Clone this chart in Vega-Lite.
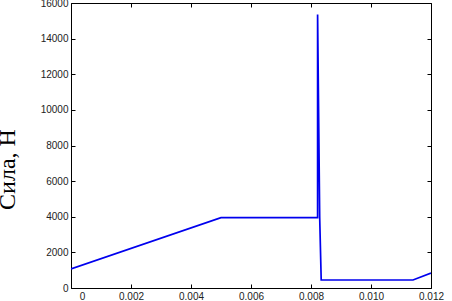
{
  "$schema": "https://vega.github.io/schema/vega-lite/v6.json",
  "autosize": "none",
  "width": 360,
  "height": 285,
  "padding": {"left": 71, "top": 3, "right": 21, "bottom": 13},
  "background": "white",
  "config": {
    "view": {"stroke": "black", "strokeWidth": 1},
    "axis": {
      "grid": false,
      "domain": false,
      "tickColor": "black",
      "tickSize": -4,
      "labelFlush": false,
      "labelFont": "Liberation Sans",
      "labelFontSize": 10,
      "labelColor": "#222"
    }
  },
  "data": {
    "values": [
      {"t": 0.0, "f": 1070},
      {"t": 0.005, "f": 3950},
      {"t": 0.00822, "f": 3950},
      {"t": 0.00822, "f": 15350},
      {"t": 0.00829, "f": 3950},
      {"t": 0.00834, "f": 450},
      {"t": 0.0114, "f": 450},
      {"t": 0.012, "f": 840}
    ]
  },
  "layer": [
    {
      "mark": {"type": "line", "color": "#0000ee", "strokeWidth": 1.7, "clip": true},
      "encoding": {
        "x": {
          "field": "t", "type": "quantitative",
          "scale": {"domain": [0, 0.012], "nice": false, "zero": false},
          "axis": {
            "orient": "bottom", "title": null,
            "values": [0, 0.002, 0.004, 0.006, 0.008, 0.01, 0.012],
            "labelExpr": "datum.value == 0 ? '0' : format(datum.value, '.3f')",
            "labelOffset": {"expr": "datum.value == 0 ? 11 : 0"},
            "labelPadding": 7
          }
        },
        "y": {
          "field": "f", "type": "quantitative",
          "scale": {"domain": [0, 16000], "nice": false},
          "axis": {
            "orient": "left",
            "values": [0, 2000, 4000, 6000, 8000, 10000, 12000, 14000, 16000],
            "format": "d",
            "labelPadding": 7,
            "title": "Сила, Н",
            "titleFont": "Liberation Serif",
            "titleFontSize": 24,
            "titleFontWeight": "normal",
            "titleColor": "black",
            "titleX": -52,
            "titleY": 166
          }
        }
      }
    },
    {
      "mark": {"type": "line", "opacity": 0},
      "encoding": {
        "x": {
          "field": "t", "type": "quantitative",
          "scale": {"domain": [0, 0.012], "nice": false, "zero": false},
          "axis": {"orient": "top", "title": null, "labels": false,
                   "values": [0, 0.002, 0.004, 0.006, 0.008, 0.01, 0.012]}
        },
        "y": {
          "field": "f", "type": "quantitative",
          "scale": {"domain": [0, 16000], "nice": false},
          "axis": {"orient": "right", "title": null, "labels": false,
                   "values": [0, 2000, 4000, 6000, 8000, 10000, 12000, 14000, 16000]}
        }
      }
    }
  ],
  "resolve": {"axis": {"x": "independent", "y": "independent"}}
}
